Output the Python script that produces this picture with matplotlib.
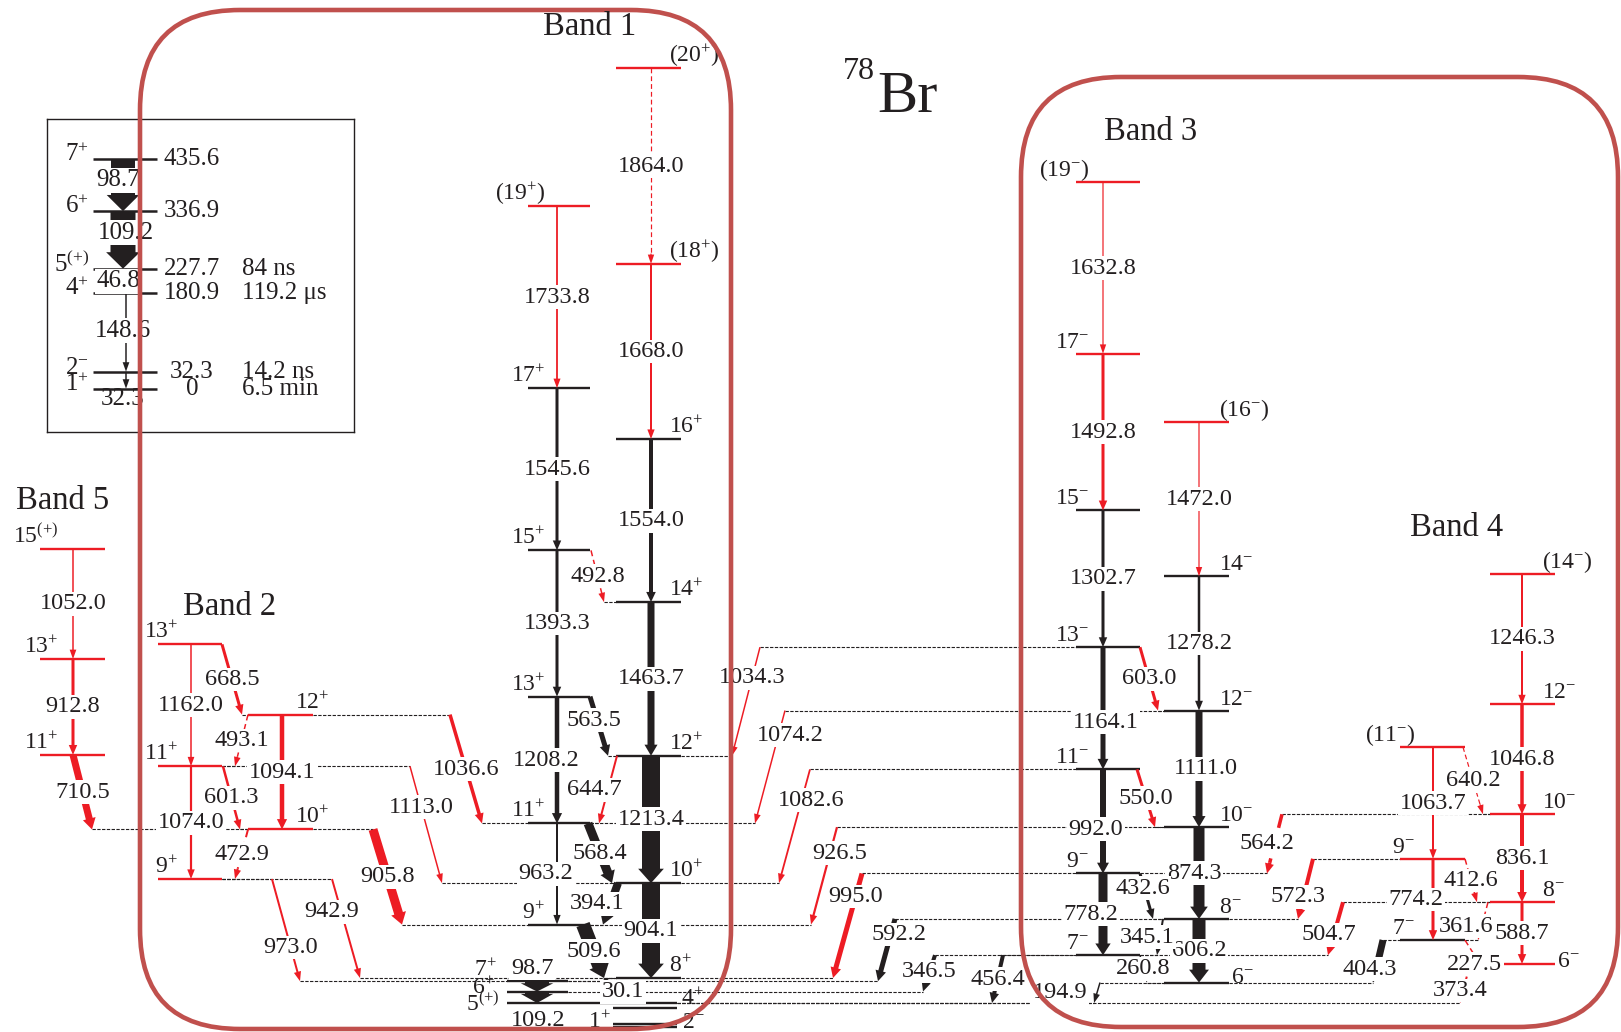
import numpy as np
import matplotlib
matplotlib.use("Agg")
import matplotlib.pyplot as plt
from matplotlib.patches import FancyArrowPatch, FancyBboxPatch

plt.rcParams['font.family'] = ['Liberation Serif', 'DejaVu Serif']
plt.rcParams['mathtext.fontset'] = 'custom'
plt.rcParams['mathtext.rm'] = 'Liberation Serif'
plt.rcParams['mathtext.it'] = 'Liberation Serif:italic'
plt.rcParams['mathtext.default'] = 'regular'

RED = '#ED1C24'
BLACK = '#231F20'
BOX = '#C0504D'
W, H = 1621, 1032

# ---------------- levels (keV) ----------------
# band 1, even spins
b1r_spin = ['8+', '10+', '12+', '14+', '16+', '(18+)', '(20+)']
b1r_E = [465.7, 1369.8, 2583.2, 4046.9, 5600.9, 7268.9, 9132.9]
b1r_new = [0, 0, 0, 0, 0, 1, 1]
# band 1, odd spins
b1l_spin = ['9+', '11+', '13+', '15+', '17+', '(19+)']
b1l_E = [975.3, 1938.5, 3146.7, 4540.0, 6085.6, 7819.4]
b1l_new = [0, 0, 0, 0, 0, 1]
# low-lying states
low_spin = ['7+', '6+', '5(+)', '4+', '2-', '1+']
low_E = [435.6, 336.9, 227.7, 180.9, 32.3, 0.0]
low_new = [0, 0, 0, 0, 0, 0]
# band 2
b2l_spin = ['9+', '11+', '13+']
b2l_E = [1408.6, 2482.6, 3644.6]
b2l_new = [1, 1, 1]
b2r_spin = ['10+', '12+']
b2r_E = [1881.1, 2975.2]
b2r_new = [1, 1]
# band 5
b5_spin = ['11+', '13+', '15(+)']
b5_E = [2591.6, 3504.4, 4556.4]
b5_new = [1, 1, 1]
# band 3
b3l_spin = ['7-', '9-', '11-', '13-', '15-', '17-', '(19-)']
b3l_E = [683.4, 1461.6, 2453.6, 3617.7, 4920.4, 6413.2, 8046.0]
b3l_new = [0, 0, 0, 0, 0, 1, 1]
b3r_spin = ['6-', '8-', '10-', '12-', '14-', '(16-)']
b3r_E = [422.6, 1028.8, 1903.1, 3014.1, 4292.3, 5764.3]
b3r_new = [0, 0, 0, 0, 0, 1]
# band 4
b4l_spin = ['7-', '9-', '(11-)']
b4l_E = [826.9, 1601.1, 2664.8]
b4l_new = [0, 1, 1]
b4r_spin = ['6-', '8-', '10-', '12-', '(14-)']
b4r_E = [599.4, 1188.1, 2025.8, 3072.6, 4318.9]
b4r_new = [1, 1, 1, 1, 1]

# ---------------- gamma rays: label, initial, final ----------------
g_band1 = [
    ('1864.0', 'b1r:(20+)', 'b1r:(18+)'), ('1668.0', 'b1r:(18+)', 'b1r:16+'),
    ('1554.0', 'b1r:16+', 'b1r:14+'), ('1463.7', 'b1r:14+', 'b1r:12+'),
    ('1213.4', 'b1r:12+', 'b1r:10+'), ('904.1', 'b1r:10+', 'b1r:8+'),
    ('1733.8', 'b1l:(19+)', 'b1l:17+'), ('1545.6', 'b1l:17+', 'b1l:15+'),
    ('1393.3', 'b1l:15+', 'b1l:13+'), ('1208.2', 'b1l:13+', 'b1l:11+'),
    ('963.2', 'b1l:11+', 'b1l:9+'),
    ('492.8', 'b1l:15+', 'b1r:14+'), ('563.5', 'b1l:13+', 'b1r:12+'),
    ('644.7', 'b1r:12+', 'b1l:11+'), ('568.4', 'b1l:11+', 'b1r:10+'),
    ('394.1', 'b1r:10+', 'b1l:9+'), ('509.6', 'b1l:9+', 'b1r:8+'),
    ('30.1', 'b1r:8+', 'low:7+'), ('98.7', 'low:7+', 'low:6+'),
    ('109.2', 'low:6+', 'low:5(+)'),
]
g_band2 = [
    ('1162.0', 'b2l:13+', 'b2l:11+'), ('1074.0', 'b2l:11+', 'b2l:9+'),
    ('1094.1', 'b2r:12+', 'b2r:10+'), ('668.5', 'b2l:13+', 'b2r:12+'),
    ('493.1', 'b2r:12+', 'b2l:11+'), ('601.3', 'b2l:11+', 'b2r:10+'),
    ('472.9', 'b2r:10+', 'b2l:9+'), ('973.0', 'b2l:9+', 'low:7+'),
    ('942.9', 'b2l:9+', 'b1r:8+'), ('905.8', 'b2r:10+', 'b1l:9+'),
    ('1113.0', 'b2l:11+', 'b1r:10+'), ('1036.6', 'b2r:12+', 'b1l:11+'),
    ('1052.0', 'b5:15(+)', 'b5:13+'), ('912.8', 'b5:13+', 'b5:11+'),
    ('710.5', 'b5:11+', 'b2r:10+'),
]
g_band3 = [
    ('1632.8', 'b3l:(19-)', 'b3l:17-'), ('1492.8', 'b3l:17-', 'b3l:15-'),
    ('1302.7', 'b3l:15-', 'b3l:13-'), ('1164.1', 'b3l:13-', 'b3l:11-'),
    ('992.0', 'b3l:11-', 'b3l:9-'), ('778.2', 'b3l:9-', 'b3l:7-'),
    ('1472.0', 'b3r:(16-)', 'b3r:14-'), ('1278.2', 'b3r:14-', 'b3r:12-'),
    ('1111.0', 'b3r:12-', 'b3r:10-'), ('874.3', 'b3r:10-', 'b3r:8-'),
    ('606.2', 'b3r:8-', 'b3r:6-'),
    ('603.0', 'b3l:13-', 'b3r:12-'), ('550.0', 'b3l:11-', 'b3r:10-'),
    ('432.6', 'b3l:9-', 'b3r:8-'), ('345.1', 'b3r:8-', 'b3l:7-'),
    ('260.8', 'b3l:7-', 'b3r:6-'),
    ('1034.3', 'b3l:13-', 'b1r:12+'), ('1074.2', 'b3r:12-', 'b1l:11+'),
    ('1082.6', 'b3l:11-', 'b1r:10+'), ('926.5', 'b3r:10-', 'b1l:9+'),
    ('995.0', 'b3l:9-', 'b1r:8+'), ('592.2', 'b3r:8-', 'low:7+'),
    ('346.5', 'b3l:7-', 'low:6+'), ('456.4', 'b3l:7-', 'low:5(+)'),
    ('194.9', 'b3r:6-', 'low:5(+)'),
]
g_band4 = [
    ('1246.3', 'b4r:(14-)', 'b4r:12-'), ('1046.8', 'b4r:12-', 'b4r:10-'),
    ('836.1', 'b4r:10-', 'b4r:8-'), ('588.7', 'b4r:8-', 'b4r:6-'),
    ('1063.7', 'b4l:(11-)', 'b4l:9-'), ('774.2', 'b4l:9-', 'b4l:7-'),
    ('640.2', 'b4l:(11-)', 'b4r:10-'), ('412.6', 'b4l:9-', 'b4r:8-'),
    ('361.6', 'b4r:8-', 'b4l:7-'), ('227.5', 'b4l:7-', 'b4r:6-'),
    ('564.2', 'b4r:10-', 'b3l:9-'), ('572.3', 'b4l:9-', 'b3r:8-'),
    ('504.7', 'b4r:8-', 'b3l:7-'), ('404.3', 'b4l:7-', 'b3r:6-'),
    ('373.4', 'b4r:6-', 'low:5(+)'),
]

# relative intensity (drawn arrow width, px)
g_width = {
    '1864.0': 1.2, '1668.0': 2.0, '1554.0': 4, '1463.7': 7, '1213.4': 18, '904.1': 18,
    '1733.8': 1.8, '1545.6': 3, '1393.3': 3, '1208.2': 4.5, '963.2': 2,
    '492.8': 1.5, '563.5': 5, '644.7': 2, '568.4': 9, '394.1': 8, '509.6': 14,
    '30.1': 1.5, '98.7': 24, '109.2': 24,
    '1162.0': 1.5, '1074.0': 2.2, '1094.1': 4.5, '668.5': 3, '493.1': 1.5, '601.3': 2.5,
    '472.9': 2, '973.0': 2, '942.9': 2, '905.8': 9, '1113.0': 1.5, '1036.6': 3.5,
    '1052.0': 1.5, '912.8': 3, '710.5': 7,
    '1632.8': 1.2, '1492.8': 3, '1302.7': 3, '1164.1': 5, '992.0': 6, '778.2': 9,
    '1472.0': 1.2, '1278.2': 2.5, '1111.0': 7, '874.3': 11, '606.2': 13,
    '603.0': 3, '550.0': 3, '432.6': 3, '345.1': 2, '260.8': 1.5,
    '1034.3': 1.5, '1074.2': 1.5, '1082.6': 1.8, '926.5': 2.2, '995.0': 5,
    '592.2': 5, '346.5': 4, '456.4': 4, '194.9': 1.5,
    '1246.3': 2, '1046.8': 3.5, '836.1': 4, '588.7': 3, '1063.7': 2, '774.2': 3,
    '640.2': 1.2, '412.6': 1.5, '361.6': 1.5, '227.5': 1.5,
    '564.2': 3.5, '572.3': 4, '504.7': 4, '404.3': 7, '373.4': 2,
}
g_known = {'1554.0', '1463.7', '1213.4', '904.1', '1545.6', '1393.3', '1208.2', '963.2',
           '563.5', '568.4', '394.1', '509.6', '30.1', '98.7', '109.2',
           '1302.7', '1164.1', '992.0', '778.2', '1278.2', '1111.0', '874.3', '606.2',
           '432.6', '345.1', '260.8', '592.2', '346.5', '456.4', '194.9', '404.3'}
g_tentative = {'1864.0', '492.8', '493.1', '472.9', '640.2', '412.6', '361.6',
               '227.5', '564.2', '373.4'}

# inset (low-lying part)
ins_spin = ['7+', '6+', '5(+)', '4+', '2-', '1+']
ins_E = [435.6, 336.9, 227.7, 180.9, 32.3, 0.0]
ins_elab = ['435.6', '336.9', '227.7', '180.9', '32.3', '0']
ins_life = ['', '', '84 ns', '119.2 \u03bcs', '14.2 ns', '6.5 min']
ins_g = [('98.7', 0, 1), ('109.2', 1, 2), ('46.8', 2, 3), ('148.6', 3, 4), ('32.3', 4, 5)]
ins_w = [24, 25, 1.2, 1.5, 1.5]

# ---------------- layout (pixels) ----------------
cols = {  # x0, x1, arrow x, label side, label offset
    'b1r': (616, 681, 651, 'R', -12), 'b1l': (528, 590, 557, 'L', 17),
    'b2l': (158, 222, 191, 'L', 20), 'b2r': (248, 313, 282, 'R', -18),
    'b5': (40, 105, 73, 'L', 18),
    'b3l': (1076, 1140, 1103, 'L', 13), 'b3r': (1164, 1229, 1199, 'R', -10),
    'b4l': (1400, 1465, 1433, 'L', 15), 'b4r': (1490, 1555, 1522, 'R', -13),
    'low': (507, 568, 537, 'L', -10),
}
level_x = {'low:5(+)': (507, 677), 'low:4+': (613, 677),
           'low:2-': (613, 677), 'low:1+': (613, 677)}
spin_fix = {  # ha, x, baseline shift (px, down)
    'low:7+': ('right', 497, -5), 'low:6+': ('right', 495, 2),
    'low:5(+)': ('right', 500, 8), 'low:4+': ('left', 681, -3),
    'low:2-': ('left', 682, 4), 'low:1+': ('right', 611, 1),
    'b3r:6-': ('left', 1231, 0), 'b4r:6-': ('left', 1557, 3),
}
g_x = {
    '492.8': (591, 604), '563.5': (590, 608), '644.7': (617, 599), '568.4': (588, 612),
    '394.1': (618, 603), '509.6': (583, 604), '30.1': (606, 606),
    '668.5': (222, 242), '493.1': (248, 235), '601.3': (223, 240), '472.9': (248, 235),
    '973.0': (272, 300), '942.9': (332, 360), '905.8': (373, 402), '1113.0': (410, 442),
    '1036.6': (450, 482), '710.5': (73, 92),
    '603.0': (1140, 1158), '550.0': (1137, 1155), '432.6': (1140, 1153),
    '345.1': (1163, 1157), '260.8': (1140, 1147),
    '1034.3': (760, 732), '1074.2': (785, 755), '1082.6': (810, 779), '926.5': (837, 811),
    '995.0': (862, 833), '592.2': (895, 878), '346.5': (935, 923), '456.4': (1003, 992),
    '194.9': (1100, 1094),
    '640.2': (1463, 1483), '412.6': (1465, 1477), '361.6': (1488, 1478),
    '227.5': (1465, 1480), '564.2': (1282, 1267), '572.3': (1313, 1298),
    '504.7': (1343, 1328), '404.3': (1383, 1373), '373.4': (1470, 1460),
}
g_lab = {  # fraction along arrow, dx, dy (px, down)
    '963.2': (0.5, -11, 0), '1208.2': (0.5, -11, 0),
    '644.7': (0.5, -14, 0), '394.1': (0.5, -13, 0), '563.5': (0.5, -5, -6),
    '30.1': (0.5, 17, 12), '98.7': (0.5, -5, -18), '109.2': (0.5, 1, 23),
    '1113.0': (0.35, 0, 0), '973.0': (0.67, 0, 0), '942.9': (0.33, -10, 0),
    '1034.3': (0.28, 0, 0), '1074.2': (0.22, 12, 0), '1082.6': (0.27, 10, 0),
    '926.5': (0.27, 10, 0), '995.0': (0.22, 0, 0), '592.2': (0.25, 8, 0),
    '346.5': (0.45, 0, 0), '194.9': (0.5, -37, 0),
    '1164.1': (0.5, 3, 14), '992.0': (0.5, -7, 8), '778.2': (0.5, -12, 0),
    '1111.0': (0.5, 7, 0), '874.3': (0.5, -5, 0),
    '432.6': (0.5, -4, -8), '345.1': (0.5, -13, 0),
    '774.2': (0.5, -17, 0), '361.6': (0.5, -17, 5), '227.5': (0.5, 2, 12),
    '373.4': (0.5, -5, 7), '404.3': (0.5, -8, 8), '504.7': (0.5, -7, 6),
    '572.3': (0.5, -8, 8), '564.2': (0.5, -8, 0),
}


def tex(s):
    paren = s[0] == '('
    core = s[1:-1] if paren else s
    n = len(core.rstrip('+-()'))
    t = core[:n] + '$^{' + core[n:] + '}$'
    return '(' + t + ')' if paren else t


def arrow(axis, x0, e0, x1, e1, w, color, dashed=False, z=4):
    p0 = axis.transData.transform((x0, e0))
    p1 = axis.transData.transform((x1, e1))
    L = np.hypot(*(p1 - p0))
    hl = min(9 + 0.3 * w, 0.8 * L)
    hw = 1.15 * w + 5
    k = 0.72
    if dashed:
        u = (p1 - p0) / L
        pa = axis.transData.inverted().transform(p1 - u * (hl + 1))
        axis.plot([x0, pa[0]], [e0, pa[1]], color=color, lw=w * k,
                  ls=(0, (4, 2.5)), zorder=z)
        x0, e0 = pa
    st = 'simple,head_length=%.2f,head_width=%.2f,tail_width=%.2f' % (hl * k, hw * k, w * k)
    axis.add_patch(FancyArrowPatch((x0, e0), (x1, e1), arrowstyle=st, mutation_scale=1,
                                   fc=color, ec='none', lw=0, shrinkA=0, shrinkB=0, zorder=z))


def glabel(axis, text, x, e, dx=0, dy=0, fs=17.5, box=True):
    bb = dict(boxstyle='square,pad=0.06', fc='white', ec='none') if box else None
    axis.annotate(text, (x, e), xytext=(dx, -dy), textcoords='offset pixels',
                  ha='center', va='center', fontsize=fs, color=BLACK,
                  zorder=6 if box else 2, bbox=bb)


fig = plt.figure(figsize=(W / 100, H / 100), dpi=100)
ax = fig.add_axes([0, 0, 1, 1])
ax.set_xlim(0, W)
ax.set_ylim(-48.6, 9783.7)
ax.axis('off')

levels = {}
for col, sp, en, nw in [('b1r', b1r_spin, b1r_E, b1r_new), ('b1l', b1l_spin, b1l_E, b1l_new),
                        ('low', low_spin, low_E, low_new), ('b2l', b2l_spin, b2l_E, b2l_new),
                        ('b2r', b2r_spin, b2r_E, b2r_new), ('b5', b5_spin, b5_E, b5_new),
                        ('b3l', b3l_spin, b3l_E, b3l_new), ('b3r', b3r_spin, b3r_E, b3r_new),
                        ('b4l', b4l_spin, b4l_E, b4l_new), ('b4r', b4r_spin, b4r_E, b4r_new)]:
    for s, e, n in zip(sp, en, nw):
        levels[col + ':' + s] = (e, col, s, n)


def lx(key):
    return level_x.get(key, cols[levels[key][1]][:2])


# level lines and spin labels
for key, (e, col, s, n) in levels.items():
    x0, x1 = lx(key)
    ax.plot([x0, x1], [e, e], color=RED if n else BLACK, lw=1.7,
            solid_capstyle='butt', zorder=3)
    side, off = cols[col][3], cols[col][4]
    if key in spin_fix:
        ha, xt, dy = spin_fix[key]
    elif side == 'L':
        ha, xt, dy = 'right', x0 + off, -6
    else:
        ha, xt, dy = 'left', x1 + off, -6
    ax.annotate(tex(s), (xt, e), xytext=(0, -dy), textcoords='offset pixels',
                ha=ha, va='baseline', fontsize=17, color=BLACK, zorder=5)

# transitions
for lab, a, b in g_band1 + g_band2 + g_band3 + g_band4:
    ea, ca = levels[a][0], levels[a][1]
    eb, cb = levels[b][0], levels[b][1]
    if lab in g_x:
        xs, xe = g_x[lab]
    else:
        xs = xe = cols[ca][2]
    # dotted extensions of the levels
    for key, xx, ee in [(a, xs, ea), (b, xe, eb)]:
        x0, x1 = lx(key)
        if xx < x0 - 1:
            ax.plot([xx, x0], [ee, ee], color=BLACK, lw=0.8, ls=(0, (3, 1.3)), zorder=1)
        elif xx > x1 + 1:
            ax.plot([x1, xx], [ee, ee], color=BLACK, lw=0.8, ls=(0, (3, 1.3)), zorder=1)
    color = BLACK if lab in g_known else RED
    arrow(ax, xs, ea, xe, eb, g_width[lab], color, lab in g_tentative)
    t, dx, dy = g_lab.get(lab, (0.5, 0, 0))
    glabel(ax, lab, xs + t * (xe - xs), ea + t * (eb - ea), dx, dy)

# ---------------- inset ----------------
axi = fig.add_axes([47 / W, 1 - 432 / H, 307 / W, 313 / H])
axi.set_xlim(47, 354)
axi.set_ylim(-82.2, 511.8)
axi.set_xticks([])
axi.set_yticks([])
for sp in axi.spines.values():
    sp.set_linewidth(1.0)
    sp.set_color(BLACK)
for s, e, el, life in zip(ins_spin, ins_E, ins_elab, ins_life):
    axi.plot([93, 157], [e, e], color=BLACK, lw=1.8, solid_capstyle='butt', zorder=3)
    axi.annotate(tex(s), (89, e), xytext=(0, -2), textcoords='offset pixels',
                 ha='right', va='baseline', fontsize=18, color=BLACK)
    axi.text(192, e, el, ha='center', va='center', fontsize=18, color=BLACK)
    if life:
        axi.text(242, e, life, ha='left', va='center', fontsize=18, color=BLACK)
ins_x = [123, 123, 126, 126, 126]
ins_lab = [(-5, -5), (3, -7), (-8, 0), (-3, -2), (-3, 19)]
for (lab, i, j), w, xx, (dx, dy) in zip(ins_g, ins_w, ins_x, ins_lab):
    arrow(axi, xx, ins_E[i], xx, ins_E[j], w, BLACK)
    glabel(axi, lab, xx, 0.5 * (ins_E[i] + ins_E[j]), dx, dy, fs=18, box=(lab != '32.3'))

# ---------------- overlay: band frames and titles ----------------
ov = fig.add_axes([0, 0, 1, 1], zorder=10)
ov.set_xlim(0, W)
ov.set_ylim(H, 0)
ov.axis('off')
ov.add_patch(FancyBboxPatch((140, 10), 591, 1019, boxstyle='round,pad=0,rounding_size=100',
                            fill=False, ec=BOX, lw=3.3))
ov.add_patch(FancyBboxPatch((1021, 77), 597, 950, boxstyle='round,pad=0,rounding_size=100',
                            fill=False, ec=BOX, lw=3.3))
for txt, x, y in [('Band 1', 590, 35), ('Band 2', 230, 615), ('Band 3', 1151, 140),
                  ('Band 4', 1457, 536), ('Band 5', 63, 509)]:
    ov.text(x, y, txt, ha='center', va='baseline', fontsize=23.5, color=BLACK)
ov.text(843, 79, '78', ha='left', va='baseline', fontsize=23, color=BLACK)
ov.text(877, 112, 'Br', ha='left', va='baseline', fontsize=43.5, color=BLACK)

fig.savefig('out.png', dpi=100)
